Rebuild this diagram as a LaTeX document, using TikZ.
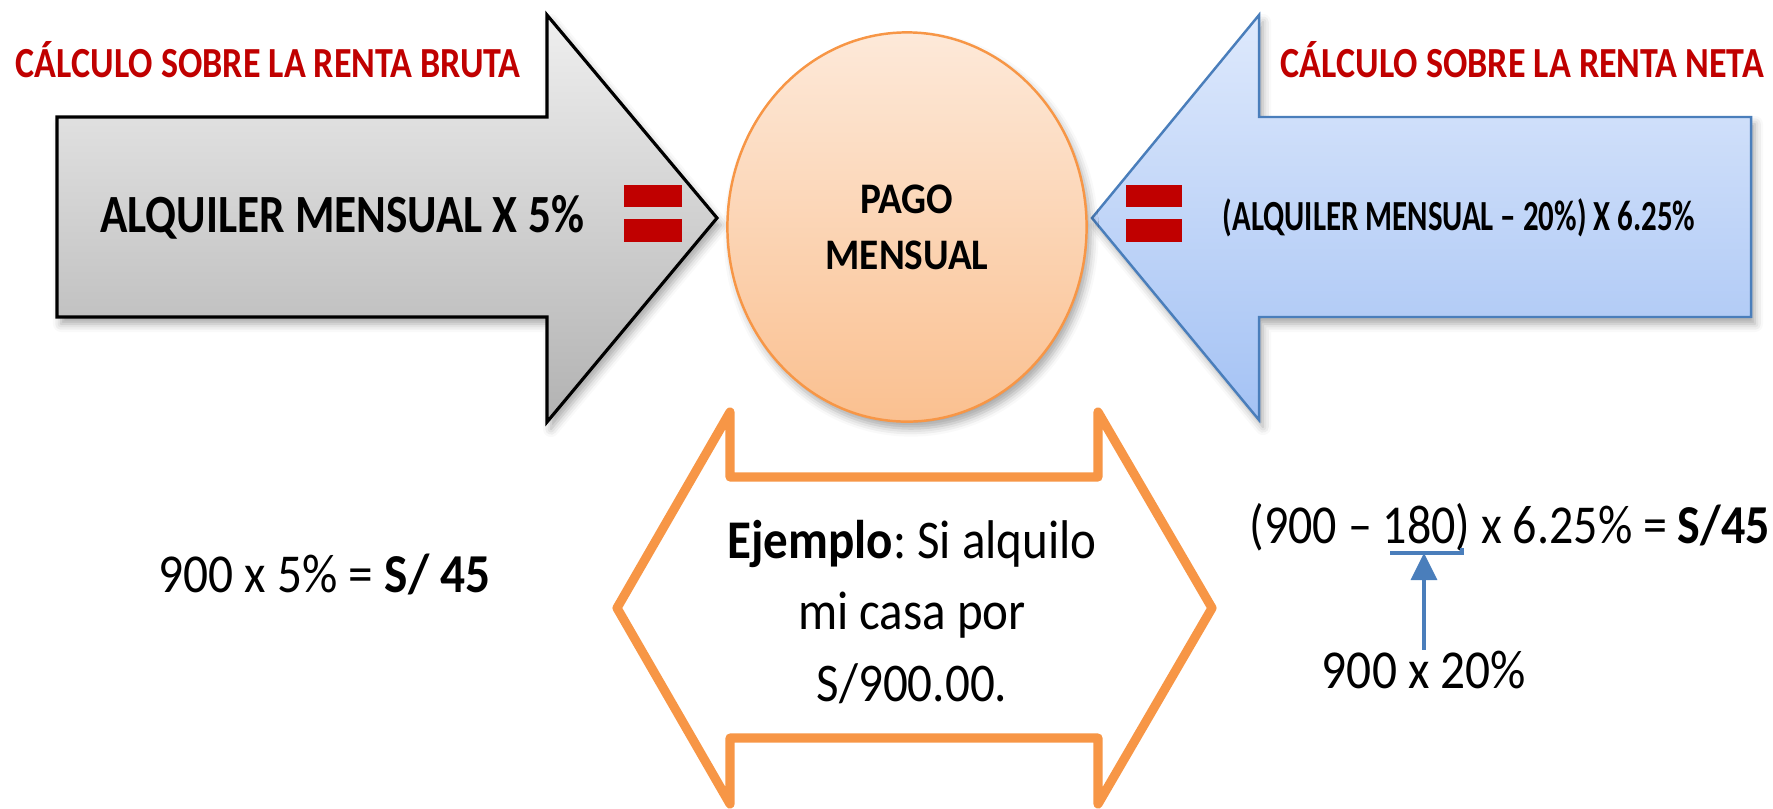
\documentclass[tikz,border=0pt]{standalone}
\usepackage{fontspec}
\setmainfont{Carlito}[FakeStretch=0.9]
\newfontfamily\titlefont{Carlito}[FakeStretch=0.84]
\newfontfamily\narrowfont{Carlito}[FakeStretch=0.72]
\newfontfamily\formulafont{Carlito}[FakeStretch=0.875]
\usepackage{xcolor}
\usetikzlibrary{arrows.meta,shapes.geometric,shadows.blur}
\frenchspacing

\definecolor{titlered}{HTML}{C00000}
\definecolor{graytop}{HTML}{EFEFEF}
\definecolor{graybot}{HTML}{B2B2B2}
\definecolor{pagotop}{HTML}{FDE9D9}
\definecolor{pagobot}{HTML}{FAC090}
\definecolor{orangeline}{HTML}{F79646}
\definecolor{bluetop}{HTML}{DEE9FC}
\definecolor{bluebot}{HTML}{A4C2F4}
\definecolor{blueline}{HTML}{4A7EBB}

\begin{document}
\begin{tikzpicture}[x=0.01cm,y=-0.01cm,
    txt/.style={inner sep=0pt},
    titletxt/.style={txt,anchor=base west,text=titlered,
        font=\titlefont\bfseries\fontsize{12.2}{14}\selectfont},
    formula/.style={txt,font=\fontsize{15.6}{18}\selectfont},
    bigarrow/.style={line width=0.9pt,line join=miter,
        blur shadow={shadow xshift=0.4mm,shadow yshift=-0.7mm,
            shadow blur radius=0.8mm,shadow opacity=35}}]
    \useasboundingbox (0,0) rectangle (1773,808);

    % Titles
    \node[titletxt] (brutatitle) at (15,77) {CÁLCULO SOBRE LA RENTA BRUTA};
    \node[titletxt] (netatitle) at (1280,77) {CÁLCULO SOBRE LA RENTA NETA};

    % Big arrows
    \draw[bigarrow,draw=black,top color=graytop,bottom color=graybot]
        (57,117) -- (547,117) -- (547,15) -- (717,218) -- (547,422)
        -- (547,317) -- (57,317) -- cycle;
    \draw[bigarrow,draw=blueline,line width=0.7pt,top color=bluetop,bottom color=bluebot]
        (1751,117) -- (1259,117) -- (1259,15) -- (1092,218) -- (1259,420)
        -- (1259,317) -- (1751,317) -- cycle;

    \node[txt,anchor=base,font=\titlefont\bfseries\fontsize{15.3}{18}\selectfont]
        (alqbruta) at (342,232) {ALQUILER MENSUAL X 5\%};
    \node[txt,anchor=base west,font=\narrowfont\bfseries\fontsize{12.2}{14}\selectfont]
        (alqneta) at (1222,230) {(ALQUILER MENSUAL – 20\%) X 6.25\%};

    % Equal signs
    \fill[titlered] (624,185) rectangle (682,207);
    \fill[titlered] (624,219) rectangle (682,242);
    \fill[titlered] (1126,185) rectangle (1182,207);
    \fill[titlered] (1126,219) rectangle (1182,242);

    \node[ellipse,draw=orangeline,line width=0.7pt,top color=pagotop,bottom color=pagobot,
        minimum width=3.59cm,minimum height=3.89cm,inner sep=0pt,align=center,
        blur shadow={shadow xshift=0.4mm,shadow yshift=-0.7mm,shadow blur radius=0.8mm,shadow opacity=35},
        font=\bfseries\fontsize{12.4}{15.9}\selectfont]
        (pago) at (907,227) {PAGO\\MENSUAL};

    % Example
    \draw[orangeline,line width=2.6pt,line join=round,fill=white]
        (617,608) -- (730,412) -- (730,477) -- (1098,477) -- (1098,412)
        -- (1212,608) -- (1098,804) -- (1098,738) -- (730,738) -- (730,804) -- cycle;
    \node[txt,align=center,font=\fontsize{15.5}{20.2}\selectfont]
        (ejemplo) at (912,612) {\textbf{Ejemplo}: Si alquilo\\mi casa por\\S/900.00.};

    \node[formula,anchor=base west] (calcbruta) at (158,592) {900 x 5\% = \textbf{S/ 45}};
    \node[formula,anchor=base west,font=\formulafont\fontsize{15.6}{18}\selectfont]
        (calcneta) at (1249,543) {(900 – 180) x 6.25\% = \textbf{S/45}};
    \node[formula,anchor=base] (calc20) at (1424,688) {900 x 20\%};

    \coordinate (brk) at (1424,553);
    \draw[blueline,line width=0.9pt] (1390,553) -- (1462,553) -- (1462,548);
    \draw[-{Triangle[length=2.7mm,width=2.6mm]},blueline,line width=0.9pt] (calc20) -- (brk);
\end{tikzpicture}
\end{document}
